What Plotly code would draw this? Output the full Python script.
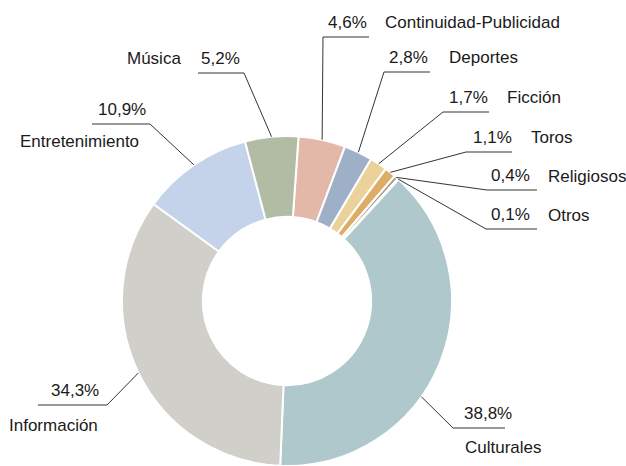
import math
import plotly.graph_objects as go

# datos
categorias = ["Continuidad-Publicidad", "Deportes", "Ficción", "Toros", "Religiosos",
              "Otros", "Culturales", "Información", "Entretenimiento", "Música"]
porcentajes = [4.6, 2.8, 1.7, 1.1, 0.4, 0.1, 38.8, 34.3, 10.9, 5.2]
colores = ["#e4b8a8", "#9eafc8", "#ebd19a", "#ddad67", "#a39a89",
           "#c9c6bd", "#afc8cc", "#d0cfca", "#c4d2ea", "#b2bca4"]

# geometria (pixeles)
W, H = 626, 466
CX, CY, R = 287, 301, 165
ROT = 4

# posicion de cada etiqueta: subrayado x0, x1, y, lado del conector,
# x del porcentaje, x / y / anclaje del nombre, ajuste del angulo del conector
etiq_pos = {
    "Continuidad-Publicidad": (323, 369, 37, "left", 347, 383, 22, "left", 0),
    "Deportes": (384, 430, 72, "left", 408, 447, 57, "left", 0),
    "Ficción": (443, 489, 112, "left", 468, 505, 97, "left", 0),
    "Toros": (466, 512, 152, "left", 492, 529, 137, "left", 0),
    "Religiosos": (487, 537, 190, "left", 510, 546, 176, "left", 0),
    "Otros": (486, 537, 229, "left", 510, 546, 215, "left", 0),
    "Culturales": (453, 505, 428, "left", 488, 463, 447, "left", 13),
    "Información": (38, 107, 405, "right", 75, 7, 425, "left", 0),
    "Entretenimiento": (92, 150, 124, "right", 122, 141, 141, "right", 0),
    "Música": (198, 244, 73, "right", 220, 183, 58, "right", 0),
}

fig = go.Figure()
fig.add_trace(go.Pie(
    labels=categorias, values=porcentajes, sort=False, direction="clockwise",
    rotation=ROT, hole=0.51, textinfo="none",
    marker=dict(colors=colores, line=dict(color="white", width=2)),
    domain=dict(x=[(CX - R) / W, (CX + R) / W], y=[1 - (CY + R) / H, 1 - (CY - R) / H]),
    showlegend=False, hoverinfo="label+percent",
))

fuente = dict(family="Liberation Sans, Arial, sans-serif", size=17, color="#1a1a1a")
total = sum(porcentajes)
acum = 0
for cat, v in zip(categorias, porcentajes):
    medio = ROT + 360 * (acum + v / 2) / total
    acum += v
    x0, x1, uy, lado, px, nx, ny, nanc, ajuste = etiq_pos[cat]
    ang = math.radians(medio + ajuste)
    ex = CX + R * math.sin(ang)
    ey = CY - R * math.cos(ang)
    ax = x0 if lado == "left" else x1
    linea = dict(color="#333333", width=1)
    fig.add_shape(type="line", x0=x0, x1=x1, y0=uy, y1=uy, xref="x", yref="y", line=linea)
    fig.add_shape(type="line", x0=ax, x1=ex, y0=uy, y1=ey, xref="x", yref="y", line=linea)
    texto = f"{v:.1f}".replace(".", ",") + "%"
    fig.add_annotation(x=px, y=uy - 15, text=texto, showarrow=False, xref="x", yref="y",
                       xanchor="center", yanchor="middle", font=fuente)
    fig.add_annotation(x=nx, y=ny, text=cat, showarrow=False, xref="x", yref="y",
                       xanchor=nanc, yanchor="middle", font=fuente)

fig.update_layout(
    width=W, height=H, margin=dict(l=0, r=0, t=0, b=0),
    paper_bgcolor="white", plot_bgcolor="rgba(0,0,0,0)",
    xaxis=dict(range=[0, W], visible=False, fixedrange=True),
    yaxis=dict(range=[H, 0], visible=False, fixedrange=True),
)
fig.write_html("out.html", config={"displayModeBar": False},
               post_script="document.body.style.margin='0';")
